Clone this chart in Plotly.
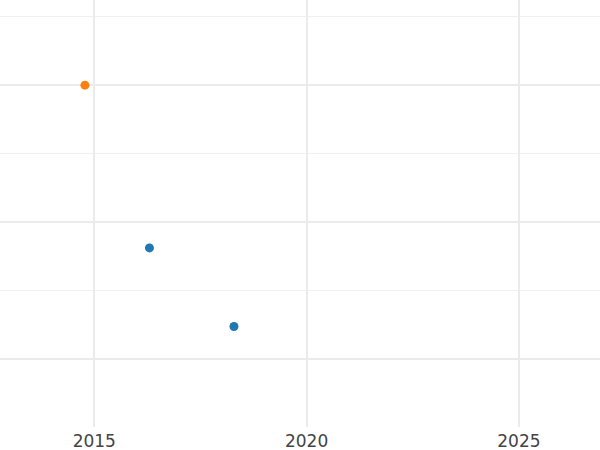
import plotly.graph_objects as go

# Data
blue_x = [2016.30, 2018.29]
blue_y = [0.81, 0.235]
orange_x = [2014.78]
orange_y = [2.0]

x_ticks = [2015, 2020, 2025]

fig = go.Figure()
fig.add_trace(go.Scatter(x=blue_x, y=blue_y, mode="markers",
                         marker=dict(color="#1f77b4", size=9), showlegend=False))
fig.add_trace(go.Scatter(x=orange_x, y=orange_y, mode="markers",
                         marker=dict(color="#ff7f0e", size=9), showlegend=False))

fig.update_layout(
    width=600, height=450,
    margin=dict(l=0, r=0, t=0, b=23),
    paper_bgcolor="white", plot_bgcolor="white",
    font=dict(family="DejaVu Sans", size=17, color="#444444"),
    xaxis=dict(range=[2012.78, 2026.91], tickvals=x_ticks,
               ticktext=[str(v) for v in x_ticks],
               showgrid=True, gridcolor="#ebebeb", gridwidth=2,
               zeroline=False, showline=False, ticks="", ticklabelstandoff=2),
    yaxis=dict(range=[-0.5, 2.623], dtick=1, tick0=0, showticklabels=False,
               showgrid=True, gridcolor="#ebebeb", gridwidth=2,
               minor=dict(dtick=0.5, tick0=0, showgrid=True, gridcolor="#f0f0f0", gridwidth=1),
               zeroline=False, showline=False, ticks=""),
)

fig.write_html("out.html", config={"displayModeBar": False},
               post_script="document.body.style.margin='0';document.body.style.padding='0';")
